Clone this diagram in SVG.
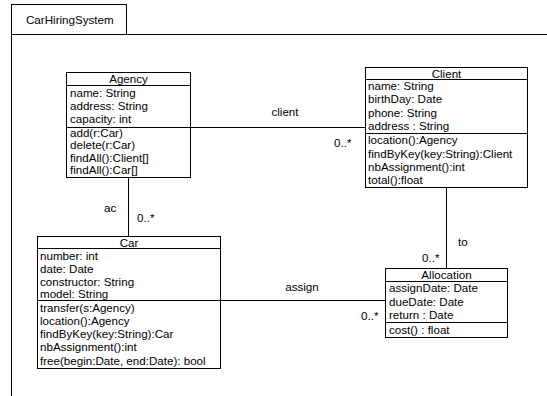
<svg xmlns="http://www.w3.org/2000/svg" width="547" height="396" viewBox="0 0 547 396">
<style>
  .box{fill:#fff;stroke:#000;stroke-width:1}
  .ln{stroke:#000;stroke-width:1;fill:none}
  text{font-family:"Liberation Sans",Arial,sans-serif;font-size:11.6px;fill:#000}
  .c{text-anchor:middle}
</style>
<rect width="547" height="396" fill="#fff"/>
<g id="frame">
  <path class="ln" d="M11.5,396 V34.5 H547"/>
  <rect class="box" x="11.5" y="4.5" width="115" height="30"/>
  <text x="26" y="23.5">CarHiringSystem</text>
</g>
<g id="connectors">
  <line class="ln" x1="190" y1="127.5" x2="365" y2="127.5"/>
  <text class="c" x="285" y="116">client</text>
  <text x="334" y="147">0..*</text>
  <line class="ln" x1="128.5" y1="178" x2="128.5" y2="236"/>
  <text x="104" y="212">ac</text>
  <text x="137" y="222">0..*</text>
  <line class="ln" x1="446.5" y1="187" x2="446.5" y2="268"/>
  <text x="458" y="246">to</text>
  <text x="422" y="262">0..*</text>
  <line class="ln" x1="220" y1="300.5" x2="385" y2="300.5"/>
  <text class="c" x="302" y="291">assign</text>
  <text x="361" y="320">0..*</text>
</g>
<g id="Agency">
  <rect class="box" x="66.5" y="72.5" width="124" height="105"/>
  <line class="ln" x1="66.5" y1="85.5" x2="190.5" y2="85.5"/>
  <line class="ln" x1="66.5" y1="127.5" x2="190.5" y2="127.5"/>
  <text class="c" x="128.5" y="83">Agency</text>
  <text x="70" y="96.5">name: String</text>
  <text x="70" y="109.5">address: String</text>
  <text x="70" y="122.5">capacity: int</text>
  <text x="70" y="136.5">add(r:Car)</text>
  <text x="70" y="149">delete(r:Car)</text>
  <text x="70" y="161.5">findAll():Client[]</text>
  <text x="70" y="174">findAll():Car[]</text>
</g>
<g id="Client">
  <rect class="box" x="365.5" y="67.5" width="162" height="120"/>
  <line class="ln" x1="365.5" y1="79.5" x2="527.5" y2="79.5"/>
  <line class="ln" x1="365.5" y1="133.5" x2="527.5" y2="133.5"/>
  <text class="c" x="446.5" y="77.5">Client</text>
  <text x="368" y="90">name: String</text>
  <text x="368" y="103">birthDay: Date</text>
  <text x="368" y="116.5">phone: String</text>
  <text x="368" y="130">address : String</text>
  <text x="368" y="144">location():Agency</text>
  <text x="368" y="157.5">findByKey(key:String):Client</text>
  <text x="368" y="171">nbAssignment():int</text>
  <text x="368" y="184">total():float</text>
</g>
<g id="Car">
  <rect class="box" x="37.5" y="236.5" width="183" height="132"/>
  <line class="ln" x1="37.5" y1="248.5" x2="220.5" y2="248.5"/>
  <line class="ln" x1="37.5" y1="300.5" x2="220.5" y2="300.5"/>
  <text class="c" x="129" y="246.5">Car</text>
  <text x="40" y="259.5">number: int</text>
  <text x="40" y="272.5">date: Date</text>
  <text x="40" y="285.5">constructor: String</text>
  <text x="40" y="298">model: String</text>
  <text x="40" y="311.5">transfer(s:Agency)</text>
  <text x="40" y="324.5">location():Agency</text>
  <text x="40" y="338">findByKey(key:String):Car</text>
  <text x="40" y="351">nbAssignment():int</text>
  <text x="40" y="364.5">free(begin:Date, end:Date): bool</text>
</g>
<g id="Allocation">
  <rect class="box" x="385.5" y="268.5" width="122" height="69"/>
  <line class="ln" x1="385.5" y1="281.5" x2="507.5" y2="281.5"/>
  <line class="ln" x1="385.5" y1="322.5" x2="507.5" y2="322.5"/>
  <text class="c" x="446.5" y="278.5">Allocation</text>
  <text x="389" y="292">assignDate: Date</text>
  <text x="389" y="305.5">dueDate: Date</text>
  <text x="389" y="319">return : Date</text>
  <text x="389" y="333.5">cost() : float</text>
</g>
</svg>
